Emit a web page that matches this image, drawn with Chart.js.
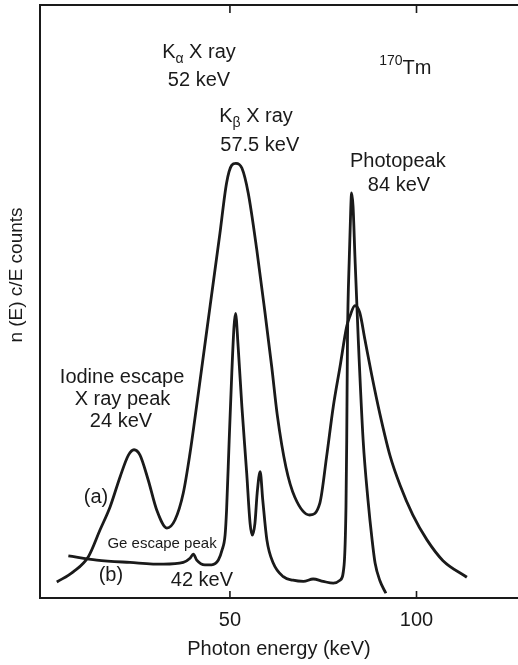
<!DOCTYPE html>
<html>
<head>
<meta charset="utf-8">
<title>170Tm spectrum</title>
<script src="https://cdn.jsdelivr.net/npm/chart.js@4.4.1/dist/chart.umd.min.js"></script>
<style>
  html, body { margin: 0; padding: 0; background: #fff; }
  canvas { display: block; }
</style>
</head>
<body>
<canvas id="spectrum" width="518" height="665"></canvas>
<script>
// curve (a): broad detector response
const energyA = [3.6, 8.0, 12.1, 15.2, 17.9, 20.6, 22.8, 24.3, 25.9, 28.1, 30.4, 33.1, 35.3, 37.5, 39.3, 40.6,
  42.0, 44.7, 47.3, 49.1, 50.5, 51.6, 53.2, 54.9, 57.2, 59.4, 61.2, 62.7, 65.0, 67.4, 71.4, 74.1, 75.9,
  77.7, 79.5, 81.3, 82.2, 83.5, 84.8, 86.2, 88.0, 90.2, 92.9, 95.6, 99.0, 102.8, 107.1, 113.5];
const countsA = [2.7, 4.4, 7.0, 11.5, 15.4, 20.5, 24.1, 25.0, 24.1, 19.9, 14.8, 11.8, 13.2, 17.7, 24.4, 30.2,
  36.7, 49.3, 61.4, 70.0, 73.0, 73.3, 72.5, 68.3, 58.7, 48.1, 39.0, 30.8, 22.1, 17.0, 14.0, 16.0, 23.8,
  32.3, 39.0, 45.8, 47.6, 49.3, 48.1, 43.5, 37.6, 31.0, 24.0, 19.0, 14.0, 9.8, 6.3, 3.5];

// curve (b): Ge detector
const energyB = [6.7, 14.3, 23.2, 32.2, 37.5, 39.3, 40.2, 41.1, 43.3, 45.1, 46.9, 47.9, 48.7, 49.1, 49.8,
  50.5, 51.1, 51.5, 52.2, 53.2, 54.5, 55.4, 56.0, 56.7, 57.3, 58.1, 58.8, 59.9, 61.6, 64.3, 66.9, 69.7,
  72.3, 75.0, 77.7, 79.5, 80.6, 81.1, 81.3, 81.5, 82.0, 82.4, 82.6, 83.0, 83.5, 84.4, 85.7, 87.0, 88.1,
  88.9, 90.2, 91.8];
const countsB = [7.1, 6.4, 6.0, 5.7, 6.0, 6.7, 7.4, 6.4, 5.6, 5.6, 6.4, 8.1, 10.6, 14.8, 26.6,
  37.9, 45.8, 48.0, 42.4, 32.3, 21.0, 12.6, 10.6, 12.6, 17.7, 21.3, 16.5, 9.8, 5.9, 3.6, 3.0, 2.8,
  3.2, 2.8, 2.5, 3.0, 5.6, 15.4, 26.6, 43.5, 57.6, 66.0, 68.3, 66.0, 57.6, 43.5, 26.6, 16.5, 9.8,
  5.9, 2.9, 0.8];

const xTicks = [50, 100];

// text placed on the plot, in data coordinates (keV, counts)
const notes = [
  { parts: [["K"], ["α", "sub"], [" X ray"]], x: 41.7, y: 91.1 },
  { parts: [["52 keV"]], x: 41.7, y: 86.3 },
  { parts: [["K"], ["β", "sub"], [" X ray"]], x: 57.0, y: 80.2 },
  { parts: [["57.5 keV"]], x: 58.0, y: 75.4 },
  { parts: [["170", "sup"], ["Tm"]], x: 97.0, y: 88.3 },
  { parts: [["Photopeak"]], x: 95.0, y: 72.7 },
  { parts: [["84 keV"]], x: 95.3, y: 68.7 },
  { parts: [["Iodine escape"]], x: 21.1, y: 36.3 },
  { parts: [["X ray peak"]], x: 21.2, y: 32.6 },
  { parts: [["24 keV"]], x: 20.8, y: 28.9 },
  { parts: [["(a)"]], x: 14.1, y: 16.1 },
  { parts: [["(b)"]], x: 18.1, y: 2.9 },
  { parts: [["Ge escape peak", "small"]], x: 31.8, y: 8.4 },
  { parts: [["42 keV"]], x: 42.5, y: 2.0 }
];

const FAMILY = "'Liberation Sans', Arial, Helvetica, sans-serif";
const INK = "#1a1a1a";

function pts(xs, ys) {
  return xs.map((e, i) => ({ x: e, y: ys[i] }));
}

const extras = {
  id: "extras",
  afterDatasetsDraw(chart) {
    const { ctx, chartArea: a, scales: { x, y } } = chart;
    ctx.save();
    // top edge of the frame
    ctx.strokeStyle = INK;
    ctx.lineWidth = 2;
    ctx.beginPath();
    ctx.moveTo(a.left - 1, a.top);
    ctx.lineTo(a.right, a.top);
    ctx.stroke();
    // inward tick marks
    ctx.lineWidth = 1.6;
    xTicks.forEach((v) => {
      const px = x.getPixelForValue(v);
      ctx.beginPath();
      ctx.moveTo(px, a.bottom);
      ctx.lineTo(px, a.bottom - 7);
      ctx.moveTo(px, a.top);
      ctx.lineTo(px, a.top + 8);
      ctx.stroke();
    });

    // notes
    ctx.fillStyle = INK;
    ctx.textBaseline = "alphabetic";
    ctx.textAlign = "left";
    notes.forEach((n) => {
      const runs = n.parts.map(([t, kind]) => {
        const size = kind === "sub" || kind === "sup" ? 14 : kind === "small" ? 15 : 20;
        const dy = kind === "sub" ? 5 : kind === "sup" ? -9 : 0;
        ctx.font = size + "px " + FAMILY;
        return { t, font: ctx.font, dy, w: ctx.measureText(t).width };
      });
      const total = runs.reduce((s, r) => s + r.w, 0);
      let cx = x.getPixelForValue(n.x) - total / 2;
      const base = y.getPixelForValue(n.y);
      runs.forEach((r) => {
        ctx.font = r.font;
        ctx.fillText(r.t, cx, base + r.dy);
        cx += r.w;
      });
    });

    // y axis title
    ctx.translate(17, 275);
    ctx.rotate(-Math.PI / 2);
    ctx.textAlign = "center";
    ctx.textBaseline = "middle";
    ctx.font = "19px " + FAMILY;
    ctx.fillText("n (E) c/E counts", 0, 0);
    ctx.restore();
  }
};

const lineStyle = {
  borderColor: INK,
  borderWidth: 2.8,
  pointRadius: 0,
  fill: false,
  cubicInterpolationMode: "monotone"
};

new Chart(document.getElementById("spectrum").getContext("2d"), {
  type: "line",
  data: {
    datasets: [
      { label: "(a)", data: pts(energyA, countsA), ...lineStyle },
      { label: "(b)", data: pts(energyB, countsB), ...lineStyle }
    ]
  },
  options: {
    responsive: false,
    animation: false,
    devicePixelRatio: 1,
    layout: { padding: { left: 40, top: 5, right: 0, bottom: 0 } },
    plugins: {
      legend: { display: false },
      tooltip: { enabled: false }
    },
    scales: {
      x: {
        type: "linear",
        min: -0.9,
        max: 127.2,
        afterBuildTicks: (s) => {
          s.ticks = xTicks.map((v) => ({ value: v }));
        },
        afterFit: (s) => {
          s.height = 67;
        },
        grid: { drawOnChartArea: false, drawTicks: false },
        border: { display: true, color: INK, width: 2 },
        ticks: {
          font: { family: FAMILY, size: 20 },
          color: INK,
          padding: 10,
          maxRotation: 0
        },
        title: {
          display: true,
          text: "Photon energy (keV)",
          font: { family: FAMILY, size: 20 },
          color: INK,
          padding: { top: 0, bottom: 4 }
        }
      },
      y: {
        min: 0,
        max: 100,
        ticks: { display: false },
        grid: { drawOnChartArea: false, drawTicks: false },
        border: { display: true, color: INK, width: 2 },
        afterFit: (s) => {
          s.width = 0;
        }
      }
    }
  },
  plugins: [extras]
});
</script>
</body>
</html>
